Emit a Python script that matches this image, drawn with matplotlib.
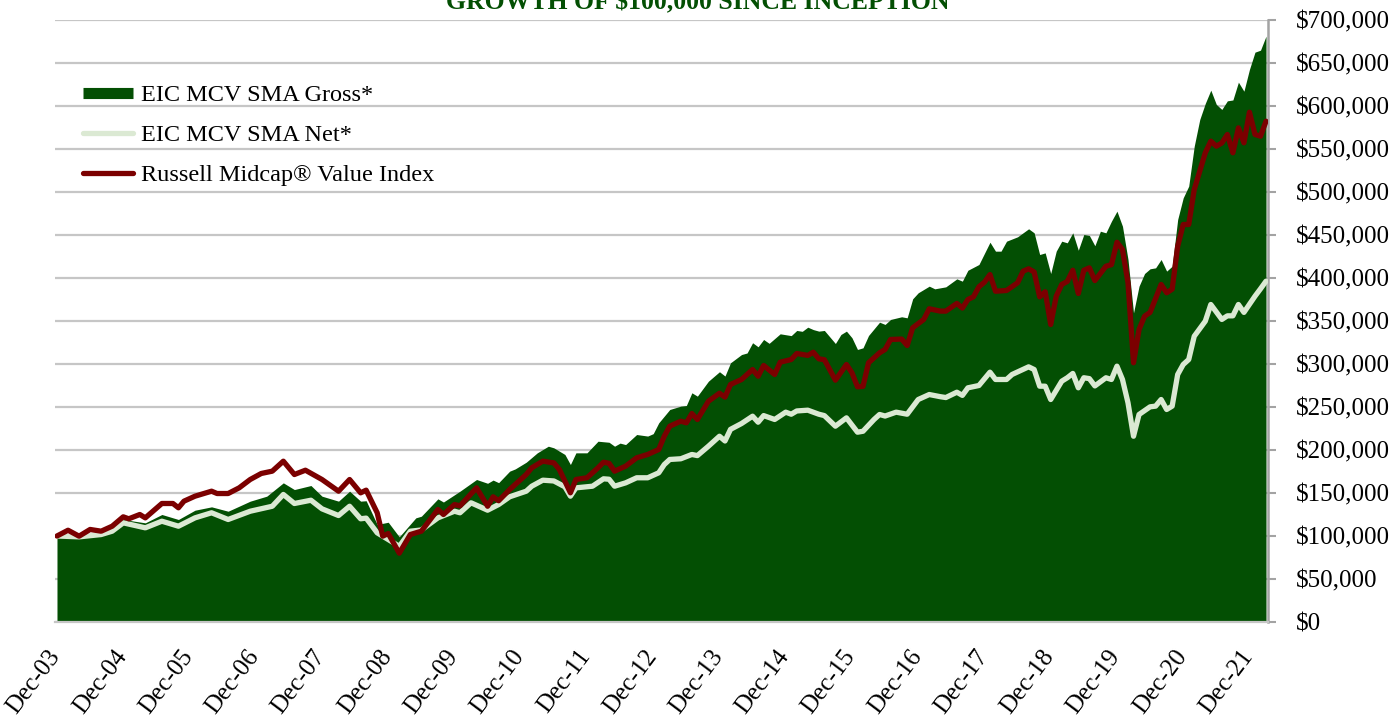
import matplotlib
matplotlib.use('Agg')
import matplotlib.pyplot as plt
from matplotlib.lines import Line2D
from matplotlib.ticker import FuncFormatter
import matplotlib.transforms as mtransforms
import numpy as np

plt.rcParams['font.family'] = ['Liberation Serif', 'DejaVu Serif']

title = "GROWTH OF $100,000 SINCE INCEPTION"
series_names = ["EIC MCV SMA Gross*", "EIC MCV SMA Net*", "Russell Midcap\u00ae Value Index"]
x_tick_labels = ['Dec-03', 'Dec-04', 'Dec-05', 'Dec-06', 'Dec-07', 'Dec-08', 'Dec-09',
                 'Dec-10', 'Dec-11', 'Dec-12', 'Dec-13', 'Dec-14', 'Dec-15', 'Dec-16',
                 'Dec-17', 'Dec-18', 'Dec-19', 'Dec-20', 'Dec-21']
x_tick_months = [0, 12, 24, 36, 48, 60, 72, 84, 96, 108, 120, 132, 144, 156, 168, 180, 192, 204, 216]

# months since Dec-2003, values in $ thousands
gross_m = [0, 4, 8, 12, 16, 19, 22, 25, 28, 31, 35, 38, 41, 43, 46, 48, 51, 53, 55, 56, 58, 60, 62,
           65, 66, 69, 70, 73, 76, 78, 79, 80, 82, 83, 85, 87, 89, 90, 92, 93, 94, 96, 98, 100,
           101, 102, 103, 105, 107, 108, 109, 111, 113, 114, 115, 116, 118, 120, 121, 122, 124,
           125, 126, 127, 128, 129, 131, 133, 134, 135, 136, 137, 138, 139, 141, 142, 143, 144,
           145, 146, 147, 149, 150, 151, 153, 154, 155, 156, 158, 159, 161, 163, 164, 165, 167,
           169, 170, 171, 172, 174, 176, 177, 178, 179, 180, 181, 182, 183, 184, 185, 186, 187,
           188, 189, 190, 191, 192, 193, 194, 195, 196, 197, 198, 199, 200, 201, 202, 203, 204,
           205, 206, 207, 208, 209, 210, 211, 212, 213, 214, 215, 216, 217, 218, 219]
gross_v = [100, 99, 102, 119.2, 115.3, 125, 119.2, 130, 133.9, 128.8, 140.5, 146.3, 161.8, 154,
           158.7, 146.3, 140.5, 152.1, 140.5, 141, 113.4, 116, 99, 121.1, 123, 143.2, 139.5, 152.1,
           165.7, 161.3, 165, 162, 175.4, 178, 185.8, 196.7, 204.4, 202.5, 194.8, 183.1, 196.7,
           196.7, 210.2, 209, 204.4, 208, 206.3, 218, 216.2, 219, 231.6, 247.1, 251, 251.7, 266.5,
           262.6, 280, 291, 286, 301.4, 311, 312.8, 324.7, 320, 328.5, 324, 335.1, 333, 339, 338,
           342.8, 340, 338.2, 339, 323.8, 334.3, 338.2, 330.5, 316.9, 318.8, 333.1, 348.6, 346,
           351.8, 354.9, 353.7, 375.8, 382.8, 390.5, 387.4, 389.7, 399, 396.3, 409, 415.7, 441.6,
           431.2, 431.2, 442.8, 447.9, 457.2, 452.5, 427.3, 429.2, 405.2, 431.2, 442.8, 440.9,
           452.5, 432.3, 450.6, 449.5, 437.5, 454.4, 452.5, 466, 477.7, 460.2, 421.5, 359.5,
           390.5, 405.2, 410.7, 411.8, 421.5, 408, 413.7, 468, 493.2, 506.8, 553.3, 584.3, 603,
           618.4, 601.8, 596, 606, 607, 627.7, 617.2, 642.5, 662.6, 664.9, 681.2]

net_m = [0, 4, 8, 10, 12, 16, 19, 22, 25, 28, 31, 35, 39, 41, 43, 46, 48, 51, 53, 55, 56, 58, 60,
         62, 64, 66, 69, 72, 73, 75, 78, 80, 82, 85, 86, 88, 90, 92, 93, 94, 97, 99, 100, 101,
         103, 105, 107, 109, 110, 111, 113, 115, 116, 118, 120, 121, 122, 124, 126, 127, 128,
         130, 132, 133, 134, 136, 138, 139, 141, 143, 145, 146, 148, 149, 150, 152, 154, 156,
         158, 160, 161, 163, 164, 165, 167, 169, 170, 172, 173, 176, 177, 178, 179, 180, 182,
         183, 184, 185, 186, 187, 188, 190, 191, 192, 193, 194, 195, 196, 198, 199, 200, 201,
         202, 203, 204, 205, 206, 208, 209, 211, 212, 213, 214, 215, 217, 218, 219]
net_v = [100, 99, 101.7, 105.6, 115.3, 109.5, 117.2, 111.4, 121.1, 127, 119.2, 128.8, 134.6,
         148.3, 137.8, 141.6, 131.6, 123.8, 134.6, 120, 120.8, 103.7, 95.9, 88, 105.6, 107,
         121.1, 128.8, 127, 138.6, 130, 136.6, 145.6, 152.1, 157.9, 164.9, 164, 157.2, 146.3,
         156, 157.9, 166.5, 166, 157.9, 161.8, 167.7, 167.7, 173.5, 183.1, 189, 189.8, 194.8,
         193.5, 204.4, 216, 210.5, 224, 230.8, 239.3, 232.3, 240, 235.5, 244, 241.6, 245.4,
         246.3, 241.6, 240, 227.7, 237.4, 220.7, 221.8, 235.5, 241.3, 239.5, 244, 241.6, 258.7,
         264.5, 262, 261, 267.2, 263.5, 272.3, 275, 290.5, 282, 282, 287.8, 296.7, 293.6, 274.2,
         274.2, 258.7, 280, 284, 289, 272.3, 284, 283, 274.5, 284, 282, 297.5, 282, 254.9, 216,
         241.3, 250.2, 251, 258.7, 247.1, 251, 287.8, 299.4, 305.2, 332.3, 349.8, 369.2, 351.8,
         356, 356, 369.2, 360, 378.8, 387.4, 396.3]

index_m = [0, 2, 4, 6, 8, 10, 12, 13, 15, 16, 19, 21, 22, 23, 25, 28, 29, 31, 33, 35, 37, 39, 41,
           43, 45, 48, 51, 53, 55, 56, 58, 59, 60, 62, 64, 66, 69, 70, 72, 73, 76, 78, 79, 80, 82,
           83, 85, 86, 88, 90, 91, 93, 94, 96, 98, 99, 100, 101, 103, 105, 107, 109, 110, 111,
           113, 114, 115, 116, 118, 120, 121, 122, 124, 126, 127, 128, 130, 131, 133, 134, 136,
           137, 138, 139, 141, 143, 144, 145, 146, 147, 149, 150, 151, 153, 154, 155, 157, 158,
           160, 161, 163, 164, 165, 166, 167, 168, 169, 170, 172, 174, 175, 176, 177, 178, 179,
           180, 181, 182, 183, 184, 185, 186, 187, 188, 190, 191, 192, 193, 194, 195, 196, 197,
           198, 200, 201, 202, 203, 204, 205, 206, 208, 209, 210, 211, 212, 213, 214, 215, 216,
           217, 218, 219]
index_v = [100, 106.7, 99.8, 107.6, 105.6, 111.4, 122.3, 120, 125, 121.1, 137.8, 137.8, 132.8,
           140.5, 146.3, 152.1, 149.4, 149.4, 156, 165.7, 172.7, 175.4, 187, 171.5, 176.5, 165.7,
           152.1, 165.7, 150.2, 153.3, 127, 99.8, 102.9, 80, 101.7, 105.6, 130.8, 125, 136.6, 135,
           156, 134.6, 145.6, 141, 154, 159.9, 171.5, 179.3, 187, 185, 177.3, 150.2, 165.7, 167.7,
           179.3, 185.8, 184.5, 175.4, 181.2, 190.9, 194.8, 200.6, 216, 227.7, 233.5, 231.6,
           242.4, 235.5, 256.7, 266, 261.5, 276.2, 282, 293.6, 285.8, 298.3, 287.8, 302.1, 305.2,
           312.2, 310, 313.7, 306, 305, 281.2, 299.4, 289.7, 273.5, 274, 301.4, 313, 316.9, 328.5,
           329, 321.5, 342.1, 351.8, 364.2, 361.5, 361.5, 370.4, 365, 375, 378.1, 389.8, 395.1,
           404, 384.6, 385.5, 394.4, 407.9, 410.7, 407, 378.1, 384, 345.9, 378.8, 392.5, 396, 409,
           382, 409, 411.8, 397, 413.7, 415.5, 441.6, 433.1, 394.4, 301.4, 340.1, 355.6, 360,
           392.5, 382.8, 387, 437, 462.2, 462.2, 502.9, 545.6, 559.1, 553.3, 557, 566.9, 545.6,
           574.6, 557.2, 592.8, 566.9, 564.9, 582.3]

GREEN = '#034f03'
NET_C = '#dbe9d3'
RED_C = '#7b0000'
GRID_C = '#c6c6c6'
AXIS_C = '#a3a3a3'
FS = 18

W, H = 1396, 721
fig = plt.figure(figsize=(W / 100, H / 100), dpi=100)
ax = fig.add_axes([55 / W, 1 - 622 / H, (1268 - 55) / W, (622 - 20) / H])

ax.fill_between(gross_m, np.array(gross_v) * 1000, 0, color=GREEN, lw=0, zorder=2)
ax.plot(net_m, np.array(net_v) * 1000, color=NET_C, lw=3.8, solid_joinstyle='round',
        solid_capstyle='round', zorder=3)
ax.plot(index_m, np.array(index_v) * 1000, color=RED_C, lw=3.8, solid_joinstyle='round',
        solid_capstyle='round', zorder=4)

ax.set_xlim(-0.36, 219.36)
ax.set_ylim(0, 700000)

ax.yaxis.tick_right()
ax.set_yticks(np.arange(0, 700001, 50000))
ax.yaxis.set_major_formatter(FuncFormatter(lambda v, p: f"${v:,.0f}"))
ax.grid(axis='y', color=GRID_C, lw=1.6, zorder=0)
ax.set_axisbelow(True)
for s in ['top', 'left']:
    ax.spines[s].set_visible(False)
ax.spines['right'].set_color(AXIS_C)
ax.spines['right'].set_linewidth(1.8)
ax.spines['bottom'].set_color(GRID_C)
ax.spines['bottom'].set_linewidth(1.6)
ax.tick_params(axis='y', length=6, width=1.5, color=AXIS_C, pad=14, labelsize=FS,
               labelright=True, labelleft=False, left=False, right=True)

# category labels under the axis, rotated like the original
ax.set_xticks([])
lbl_trans = ax.get_xaxis_transform() + mtransforms.ScaledTranslation(8 / 100, -24 / 100,
                                                                     fig.dpi_scale_trans)
for mth, lab in zip(x_tick_months, x_tick_labels):
    ax.text(mth, 0, lab, transform=lbl_trans, rotation=53, ha='right', va='top',
            fontsize=FS, clip_on=False)

handles = [Line2D([0], [0], color=GREEN, lw=8, solid_capstyle='butt'),
           Line2D([0], [0], color=NET_C, lw=3.8, solid_capstyle='round'),
           Line2D([0], [0], color=RED_C, lw=3.8, solid_capstyle='round')]
fig.legend(handles, series_names, loc='upper left', bbox_to_anchor=(83 / W, 1 - 84 / H),
           bbox_transform=fig.transFigure, frameon=False, fontsize=17.5, handlelength=2.05,
           handletextpad=0.33, labelspacing=0.74, borderpad=0, borderaxespad=0)

fig.text(0.5, 1 - 9 / H, title, ha='center', va='baseline', fontsize=18.5,
         fontweight='bold', color=GREEN)

fig.savefig('out.png', dpi=100)
